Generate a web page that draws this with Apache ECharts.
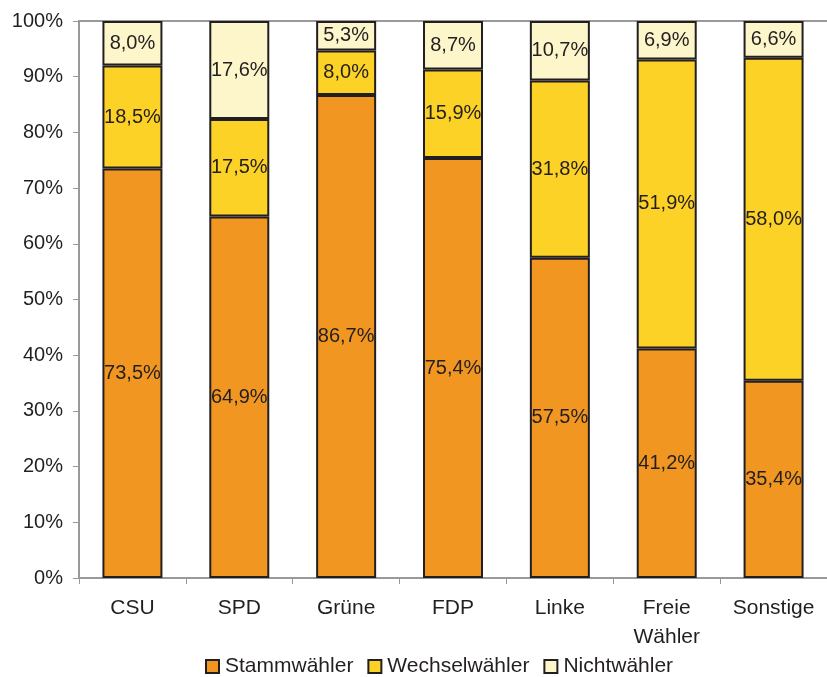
<!DOCTYPE html>
<html>
<head>
<meta charset="utf-8">
<script src="https://cdn.jsdelivr.net/npm/echarts@6/dist/echarts.min.js"></script>
<style>
html,body{margin:0;padding:0;background:#fff;}
#chart{width:827px;height:677px;}
</style>
</head>
<body>
<div id="chart"></div>
<script>
var categories = ['CSU', 'SPD', 'Grüne', 'FDP', 'Linke', 'Freie\nWähler', 'Sonstige'];
var seriesNames = ['Stammwähler', 'Wechselwähler', 'Nichtwähler'];
var stammwaehler = [73.5, 64.9, 86.7, 75.4, 57.5, 41.2, 35.4];
var wechselwaehler = [18.5, 17.5, 8.0, 15.9, 31.8, 51.9, 58.0];
var nichtwaehler = [8.0, 17.6, 5.3, 8.7, 10.7, 6.9, 6.6];
var yTicks = [0, 10, 20, 30, 40, 50, 60, 70, 80, 90, 100];

var colors = ['#F29622', '#FDD226', '#FCF6CA'];
var FONT = 'Liberation Sans';
var TEXT = '#231F20';

function fmt(v) { return v.toFixed(1).replace('.', ',') + '%'; }

function makeSeries(name, data, color) {
  return {
    name: name,
    type: 'bar',
    stack: 'total',
    data: data,
    barWidth: 60,
    itemStyle: { color: color, borderColor: '#231F20', borderWidth: 2 },
    label: {
      show: true,
      position: 'inside',
      color: TEXT,
      fontFamily: FONT,
      fontSize: 20,
      formatter: function (p) { return fmt(p.value); }
    },
    emphasis: { disabled: true }
  };
}

var chart = echarts.init(document.getElementById('chart'), null, { renderer: 'canvas' });
chart.setOption({
  animation: false,
  backgroundColor: '#fff',
  textStyle: { fontFamily: FONT },
  grid: { left: 79, right: -10, top: 21, bottom: 99, containLabel: false },
  legend: {
    data: seriesNames,
    left: 200,
    top: 651,
    itemWidth: 13,
    itemHeight: 13,
    itemGap: 14,
    icon: 'rect',
    textStyle: { fontFamily: FONT, fontSize: 21, color: TEXT, padding: [0, 0, 0, 1] },
    itemStyle: { borderColor: '#231F20', borderWidth: 2 }
  },
  xAxis: [{
    type: 'category',
    data: categories,
    axisLine: { show: true, lineStyle: { color: '#999', width: 2 } },
    axisTick: { show: true, length: 6, lineStyle: { color: '#999', width: 1 } },
    axisLabel: { fontFamily: FONT, fontSize: 21, color: TEXT, margin: 16, lineHeight: 29, interval: 0 }
  }, {
    type: 'category',
    data: categories,
    position: 'top',
    axisLine: { show: true, lineStyle: { color: '#999', width: 2 } },
    axisTick: { show: false },
    axisLabel: { show: false }
  }],
  yAxis: {
    type: 'value',
    min: 0,
    max: 100,
    interval: 10,
    axisLine: { show: true, lineStyle: { color: '#999', width: 2 } },
    axisTick: { show: true, inside: false, length: 6, lineStyle: { color: '#999', width: 1 } },
    splitLine: { show: false },
    axisLabel: {
      fontFamily: FONT, fontSize: 20, color: TEXT, margin: 16,
      formatter: function (v) { return yTicks.indexOf(v) >= 0 ? v + '%' : ''; }
    }
  },
  series: [
    makeSeries(seriesNames[0], stammwaehler, colors[0]),
    makeSeries(seriesNames[1], wechselwaehler, colors[1]),
    makeSeries(seriesNames[2], nichtwaehler, colors[2])
  ]
});
</script>
</body>
</html>
